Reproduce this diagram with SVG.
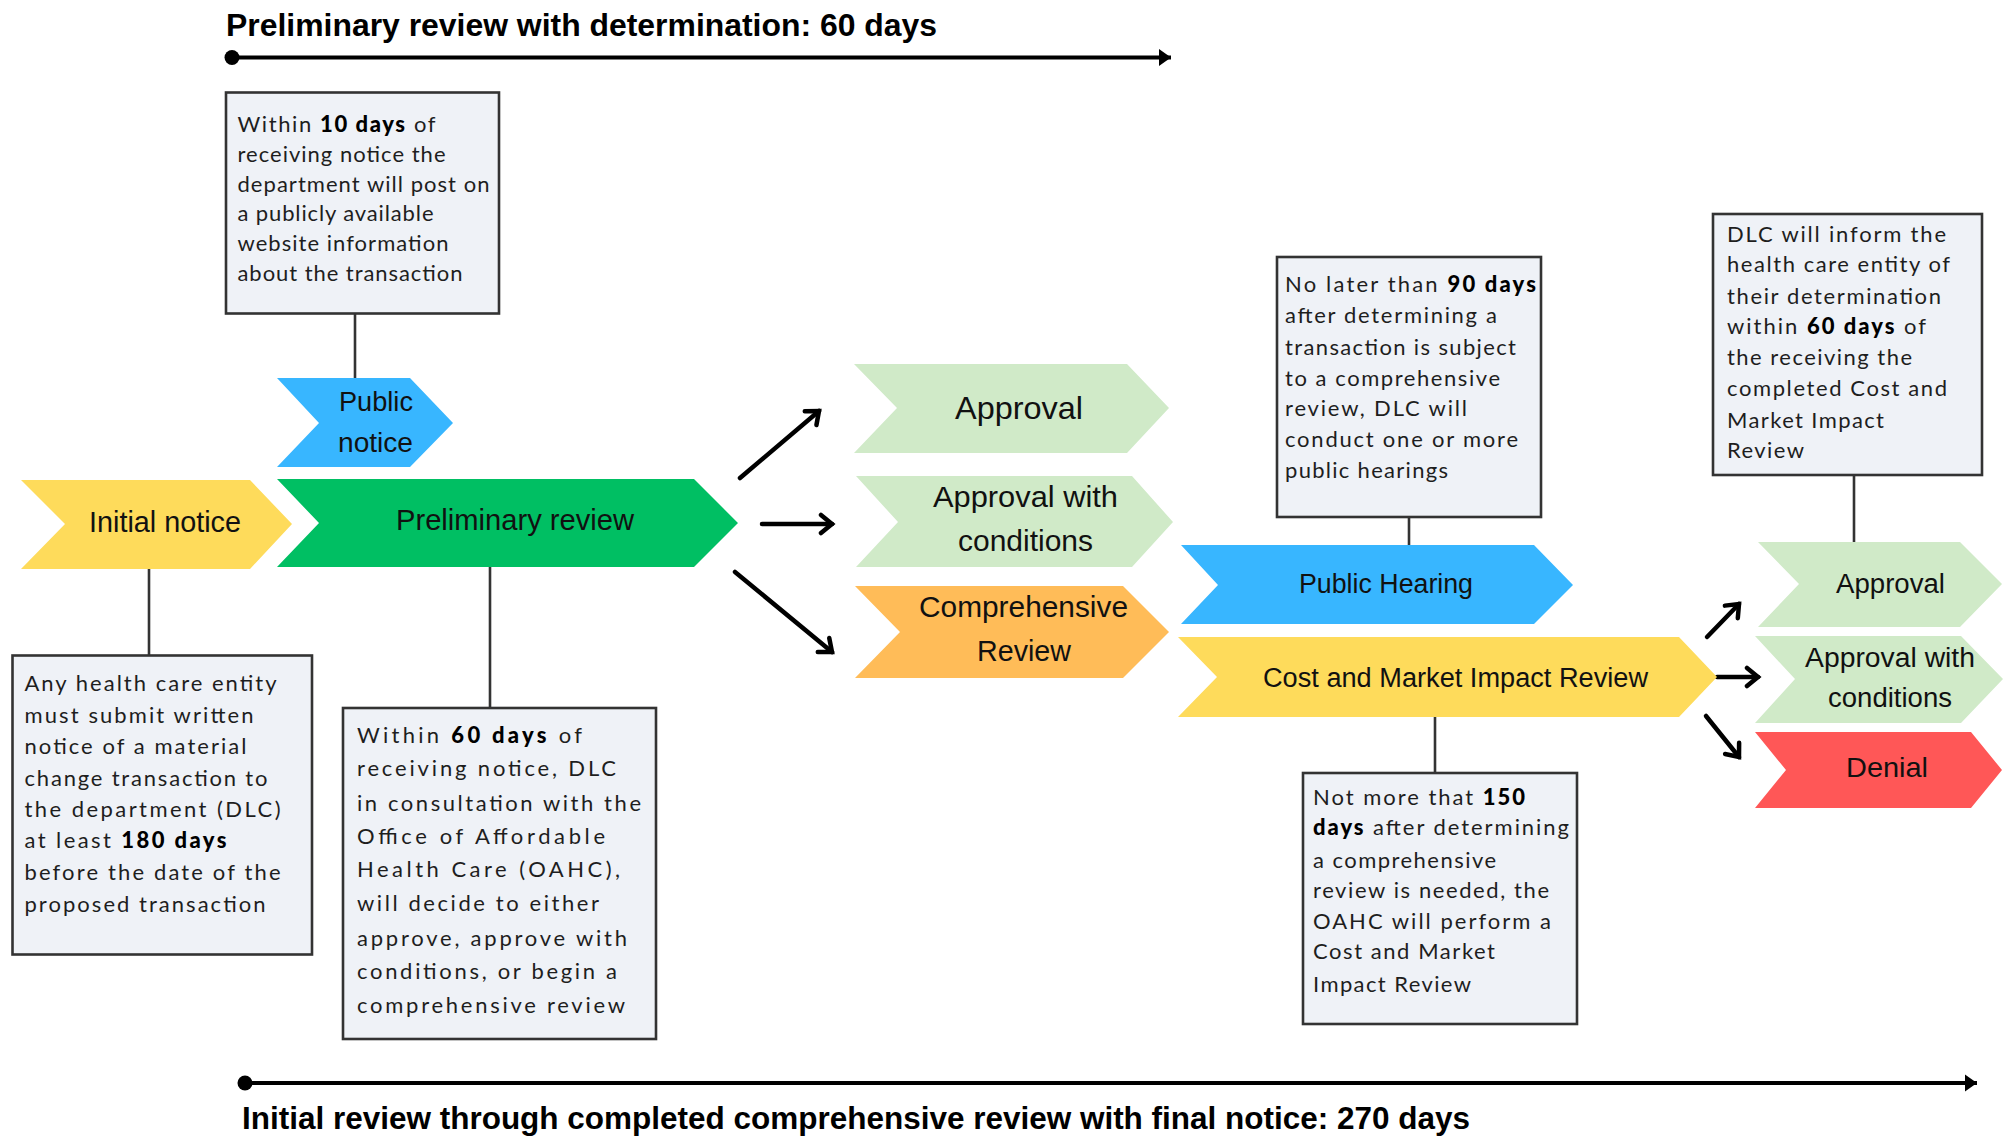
<svg xmlns="http://www.w3.org/2000/svg" width="2005" height="1138" viewBox="0 0 2005 1138">
<style>
.bg{fill:#ffffff}
.box{fill:#eff2f7;stroke:#333333;stroke-width:2.6}
.bt{font-family:Lato,"Open Sans","DejaVu Sans",sans-serif;font-size:22px;fill:#1e1e1e}
.b{font-weight:900;fill:#000}
.lbl{font-family:"Liberation Sans",Arial,sans-serif;fill:#111111}
.title{font-family:"Liberation Sans",Arial,sans-serif;font-weight:700;font-size:31px;fill:#000}
.conn{stroke:#333333;stroke-width:2.6;fill:none}
.arr{stroke:#000;stroke-width:4.5;fill:none;stroke-linecap:round;marker-end:url(#open)}
.tl{stroke:#000;stroke-width:4;fill:none;marker-end:url(#tri)}
.yellow{fill:#fedb5b}
.green{fill:#00bf63}
.blue{fill:#38b6ff}
.lgreen{fill:#d0eac8}
.orange{fill:#ffbc58}
.red{fill:#ff5757}
</style>
<defs>
<marker id="open" viewBox="-16 -12 20 24" refX="0" refY="0" markerWidth="20" markerHeight="24" markerUnits="userSpaceOnUse" orient="auto">
<path d="M-11,-9 L0,0 L-11,9" fill="none" stroke="#000" stroke-width="4.5" stroke-linecap="round" stroke-linejoin="miter"/>
</marker>
<marker id="tri" viewBox="-14 -10 16 20" refX="0" refY="0" markerWidth="16" markerHeight="20" markerUnits="userSpaceOnUse" orient="auto">
<path d="M-12,-8.5 L0,0 L-12,8.5 Z" fill="#000"/>
</marker>
</defs>
<rect class="bg" x="0" y="0" width="2005" height="1138"/>

<g id="timelines">
<circle cx="232" cy="57.5" r="7.5" fill="#000"/>
<line class="tl" x1="232" y1="57.5" x2="1171" y2="57.5"/>
<text class="title" x="226" y="36" textLength="711" lengthAdjust="spacingAndGlyphs">Preliminary review with determination: 60 days</text>
<circle cx="245" cy="1083" r="7.5" fill="#000"/>
<line class="tl" x1="245" y1="1083" x2="1977" y2="1083"/>
<text class="title" x="242" y="1129" textLength="1228" lengthAdjust="spacingAndGlyphs">Initial review through completed comprehensive review with final notice: 270 days</text>
</g>

<g id="connectors">
<line class="conn" x1="355" y1="313" x2="355" y2="378"/>
<line class="conn" x1="149" y1="569" x2="149" y2="656"/>
<line class="conn" x1="490" y1="566" x2="490" y2="708"/>
<line class="conn" x1="1409" y1="517" x2="1409" y2="545"/>
<line class="conn" x1="1435" y1="717" x2="1435" y2="773"/>
<line class="conn" x1="1854" y1="475" x2="1854" y2="542"/>
<line class="arr" x1="740" y1="478" x2="819" y2="411"/>
<line class="arr" x1="762" y1="524" x2="832" y2="524"/>
<line class="arr" x1="735" y1="572" x2="832" y2="652"/>
<line class="arr" x1="1707" y1="637" x2="1739" y2="604"/>
<line class="arr" x1="1717" y1="677" x2="1758" y2="677"/>
<line class="arr" x1="1706" y1="716" x2="1739" y2="757"/>
</g>

<g id="initial-notice">
<polygon class="yellow" points="21,480 250,480 292,524 250,569 21,569 65,524"/>
<text class="lbl" x="89" y="532" font-size="29" textLength="152" lengthAdjust="spacingAndGlyphs">Initial notice</text>
</g>

<g id="public-notice">
<polygon class="blue" points="277,378 410,378 453,423 410,467 277,467 319,423"/>
<text class="lbl" x="339" y="411" font-size="27" textLength="74" lengthAdjust="spacingAndGlyphs">Public</text>
<text class="lbl" x="338" y="452" font-size="27" textLength="75" lengthAdjust="spacingAndGlyphs">notice</text>
</g>

<g id="preliminary-review">
<polygon class="green" points="277,479 694,479 738,523 694,567 277,567 319,523"/>
<text class="lbl" x="396" y="530" font-size="29" textLength="238" lengthAdjust="spacingAndGlyphs">Preliminary review</text>
</g>

<g id="approval-1">
<polygon class="lgreen" points="854,364 1127,364 1169,408 1127,453 854,453 897,408"/>
<text class="lbl" x="955" y="419" font-size="32" textLength="128" lengthAdjust="spacingAndGlyphs">Approval</text>
</g>

<g id="approval-conditions-1">
<polygon class="lgreen" points="856,476 1132,476 1173,522 1132,567 856,567 898,522"/>
<text class="lbl" x="933" y="507" font-size="29" textLength="185" lengthAdjust="spacingAndGlyphs">Approval  with</text>
<text class="lbl" x="958" y="551" font-size="29" textLength="135" lengthAdjust="spacingAndGlyphs">conditions</text>
</g>

<g id="comprehensive-review">
<polygon class="orange" points="855,586 1123,586 1169,632 1123,678 855,678 900,632"/>
<text class="lbl" x="919" y="617" font-size="30" textLength="209" lengthAdjust="spacingAndGlyphs">Comprehensive</text>
<text class="lbl" x="977" y="661" font-size="30" textLength="94" lengthAdjust="spacingAndGlyphs">Review</text>
</g>

<g id="public-hearing">
<polygon class="blue" points="1181,545 1534,545 1573,585 1534,624 1181,624 1218,585"/>
<text class="lbl" x="1299" y="593" font-size="27" textLength="174" lengthAdjust="spacingAndGlyphs">Public Hearing</text>
</g>

<g id="cost-market-review">
<polygon class="yellow" points="1178,637 1679,637 1717,677 1679,717 1178,717 1217,677"/>
<text class="lbl" x="1263" y="687" font-size="27" textLength="385" lengthAdjust="spacingAndGlyphs">Cost and Market Impact Review</text>
</g>

<g id="approval-2">
<polygon class="lgreen" points="1758,542 1960,542 2002,584 1960,627 1758,627 1799,584"/>
<text class="lbl" x="1836" y="593" font-size="27" textLength="109" lengthAdjust="spacingAndGlyphs">Approval</text>
</g>

<g id="approval-conditions-2">
<polygon class="lgreen" points="1755,636 1961,636 2003,679 1961,723 1755,723 1795,679"/>
<text class="lbl" x="1805" y="667" font-size="27" textLength="170" lengthAdjust="spacingAndGlyphs">Approval  with</text>
<text class="lbl" x="1828" y="707" font-size="27" textLength="124" lengthAdjust="spacingAndGlyphs">conditions</text>
</g>

<g id="denial">
<polygon class="red" points="1755,732 1971,732 2002,770 1971,808 1755,808 1786,770"/>
<text class="lbl" x="1846" y="777" font-size="28" textLength="82" lengthAdjust="spacingAndGlyphs">Denial</text>
</g>

<g id="note-public-notice">
<rect class="box" x="226" y="92.5" width="273" height="221"/>
<g class="bt" font-size="21">
<text x="237.5" y="132" textLength="198">Within <tspan class="b">10 days</tspan> of</text>
<text x="237.5" y="162" textLength="208">receiving notice the</text>
<text x="237.5" y="191.5" textLength="252">department will post on</text>
<text x="237.5" y="221" textLength="196">a publicly available</text>
<text x="237.5" y="251" textLength="211">website information</text>
<text x="237.5" y="280.5" textLength="225">about the transaction</text>
</g>
</g>

<g id="note-initial-notice">
<rect class="box" x="12.5" y="655.5" width="299.5" height="299"/>
<g class="bt">
<text x="24.5" y="691" textLength="252">Any health care entity</text>
<text x="24.5" y="722.5" textLength="229">must submit written</text>
<text x="24.5" y="754" textLength="222">notice of a material</text>
<text x="24.5" y="785.5" textLength="243">change transaction to</text>
<text x="24.5" y="817" textLength="256">the department (DLC)</text>
<text x="24.5" y="848" textLength="202">at least <tspan class="b">180 days</tspan></text>
<text x="24.5" y="880" textLength="256">before the date of the</text>
<text x="24.5" y="912" textLength="241">proposed transaction</text>
</g>
</g>

<g id="note-preliminary-review">
<rect class="box" x="343" y="708" width="313" height="331"/>
<g class="bt" font-size="24">
<text x="357" y="743" textLength="225">Within <tspan class="b">60 days</tspan> of</text>
<text x="357" y="776" textLength="259">receiving notice, DLC</text>
<text x="357" y="811" textLength="284">in consultation with the</text>
<text x="357" y="844" textLength="248">Office of Affordable</text>
<text x="357" y="877" textLength="263">Health Care (OAHC),</text>
<text x="357" y="911" textLength="242">will decide to either</text>
<text x="357" y="946" textLength="270">approve, approve with</text>
<text x="357" y="979" textLength="260">conditions, or begin a</text>
<text x="357" y="1013" textLength="268">comprehensive review</text>
</g>
</g>

<g id="note-public-hearing">
<rect class="box" x="1277" y="257" width="264" height="260"/>
<g class="bt">
<text x="1285" y="292" textLength="251">No later than <tspan class="b">90 days</tspan></text>
<text x="1285" y="323" textLength="212">after determining a</text>
<text x="1285" y="355" textLength="231">transaction is subject</text>
<text x="1285" y="386" textLength="215">to a comprehensive</text>
<text x="1285" y="416" textLength="182">review, DLC will</text>
<text x="1285" y="447" textLength="233">conduct one or more</text>
<text x="1285" y="478" textLength="163">public hearings</text>
</g>
</g>

<g id="note-cost-market">
<rect class="box" x="1303" y="773" width="274" height="251"/>
<g class="bt">
<text x="1313" y="805" textLength="212">Not more that <tspan class="b">150</tspan></text>
<text x="1313" y="835" textLength="256"><tspan class="b">days</tspan> after determining</text>
<text x="1313" y="868" textLength="183">a comprehensive</text>
<text x="1313" y="898" textLength="236">review is needed, the</text>
<text x="1313" y="929" textLength="238">OAHC will perform a</text>
<text x="1313" y="959" textLength="182">Cost and Market</text>
<text x="1313" y="992" textLength="158">Impact Review</text>
</g>
</g>

<g id="note-final-determination">
<rect class="box" x="1713" y="214" width="269" height="261"/>
<g class="bt">
<text x="1727" y="242" textLength="219">DLC will inform the</text>
<text x="1727" y="272" textLength="223">health care entity of</text>
<text x="1727" y="304" textLength="214">their determination</text>
<text x="1727" y="334" textLength="199">within <tspan class="b">60 days</tspan> of</text>
<text x="1727" y="365" textLength="185">the receiving the</text>
<text x="1727" y="396" textLength="220">completed Cost and</text>
<text x="1727" y="428" textLength="157">Market Impact</text>
<text x="1727" y="458" textLength="77">Review</text>
</g>
</g>
</svg>
